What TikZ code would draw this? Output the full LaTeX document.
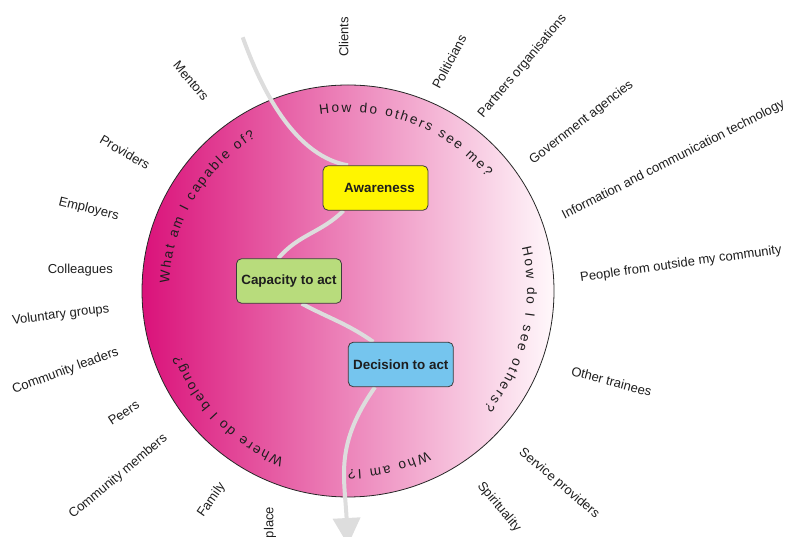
\documentclass[tikz,border=0pt]{standalone}
\usepackage{fontspec}
\setmainfont{Liberation Sans}
\usetikzlibrary{decorations.text,arrows.meta}

\definecolor{ringdark}{RGB}{218,18,122}
\definecolor{ringlight}{RGB}{255,248,251}
\definecolor{flowgray}{RGB}{221,221,221}
\definecolor{inkgray}{RGB}{30,30,30}
\definecolor{boxedge}{RGB}{60,60,60}
\definecolor{awfill}{RGB}{255,245,0}
\definecolor{capfill}{RGB}{184,220,124}
\definecolor{decfill}{RGB}{117,197,238}

\pgfdeclarelayer{back}
\pgfdeclarelayer{flow}
\pgfsetlayers{back,flow,main}

% question written clockwise along the inside of the ring:
% #1 start angle, #2 end angle, #3 baseline radius, #4 text
\newcommand\ringtext[4]{%
  \path[decorate, decoration={text along path, text align={fit to path},
        text color=inkgray,
        text={|\fontsize{13.6}{15}\selectfont|#4}}]
    (ring.center) ++(#1:#3pt) arc[start angle=#1, end angle=#2, radius=#3pt];}

\tikzset{
  stage/.style={draw=boxedge, line width=0.8pt, rounded corners=5pt,
    minimum width=105pt, minimum height=44.5pt, inner sep=0pt,
    font=\bfseries\fontsize{13.4}{15}\selectfont, text=inkgray},
  ringlabel/.style={font=\fontsize{13}{15}\selectfont, text=inkgray, inner sep=0pt},
  flow/.style={draw=flowgray, line width=4pt}
}

\begin{document}
\begin{tikzpicture}[x=1pt,y=1pt]
\useasboundingbox (0,0) rectangle (792,537);
\clip (0,0) rectangle (792,537);

% shaded ring
\begin{pgfonlayer}{back}
\node[circle, minimum size=412pt, inner sep=0pt, draw=black!85, line width=0.8pt,
      left color=ringdark, right color=ringlight] (ring) at (348,246) {};
\end{pgfonlayer}

% stages
\node[stage, fill=awfill]  (aw)  at (375.5,349)   {\hspace{8pt}Awareness};
\node[stage, fill=capfill] (cap) at (289,256)     {Capacity to act};
\node[stage, fill=decfill] (dec) at (400.8,172.5) {Decision to act};

% winding path through the stages
\coordinate (src) at (242.7,499.7);
\coordinate (tip) at (348,-8);
\begin{pgfonlayer}{flow}
\draw[flow] (src) to[out=-70, in=170, out distance=40pt, in distance=60pt]
  ([xshift=-27.5pt]aw.north);
\draw[flow] ([xshift=-32pt]aw.south) to[out=-135, in=50]
  ([xshift=-10.7pt]cap.north);
\draw[flow] ([xshift=12.7pt]cap.south) to[out=-28, in=145]
  ([xshift=-27.5pt]dec.north);
\draw[flow, -{Triangle[width=27pt, length=27pt]}] ([xshift=-25.8pt]dec.south)
  to[out=-125, in=93, out distance=70pt, in distance=70pt] (tip);
\end{pgfonlayer}

% questions around the ring
\ringtext{99}{39.3}{179}{How do others see me?}
\ringtext{14}{-40.7}{179}{How do I see others?}
\ringtext{-63.6}{-90}{179}{Who am I?}
\ringtext{-111}{-159}{179}{Where do I belong?}
\ringtext{177.6}{121}{179}{What am I capable of?}

% people and places around the ring
\node[ringlabel, rotate=90]  (clients)     at (343.7,500)   {Clients};
\node[ringlabel, rotate=62]  (politicians) at (449.2,475.3) {Politicians};
\node[ringlabel, rotate=50]  (partners)    at (522.5,470.5) {Partners organisations};
\node[ringlabel, rotate=38]  (government)  at (581.5,414.5) {Government agencies};
\node[ringlabel, rotate=27]  (ict)         at (673.5,377)   {Information and communication technology};
\node[ringlabel, rotate=8]   (outsiders)   at (681,273)     {People from outside my community};
\node[ringlabel, rotate=-15] (trainees)    at (611.5,155.5) {Other trainees};
\node[ringlabel, rotate=-40] (services)    at (559,53.5)    {Service providers};
\node[ringlabel, rotate=-50] (spirit)      at (499,30)      {Spirituality};
\node[ringlabel, rotate=90]  (workplace)   at (270,14.5)    {place};
\node[ringlabel, rotate=55]  (family)      at (211.7,37)    {Family};
\node[ringlabel, rotate=40]  (members)     at (118.3,60.3)  {Community members};
\node[ringlabel, rotate=33]  (peers)       at (123.7,124.2) {Peers};
\node[ringlabel, rotate=20]  (leaders)     at (65.5,165.8)  {Community leaders};
\node[ringlabel, rotate=7]   (voluntary)   at (60.8,222)    {Voluntary groups};
\node[ringlabel]             (colleagues)  at (80.3,266.5)  {Colleagues};
\node[ringlabel, rotate=-14] (employers)   at (88.7,327.8)  {Employers};
\node[ringlabel, rotate=-30] (providers)   at (125,384.7)   {Providers};
\node[ringlabel, rotate=-50] (mentors)     at (191,456)     {Mentors};
\end{tikzpicture}
\end{document}
